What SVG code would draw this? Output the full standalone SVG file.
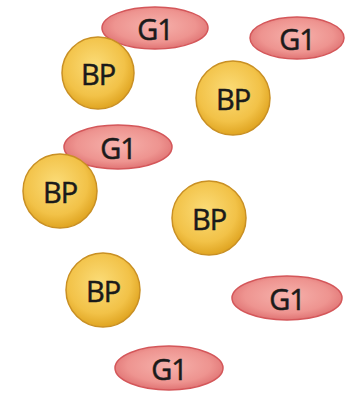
<svg xmlns="http://www.w3.org/2000/svg" width="352" height="394" viewBox="0 0 352 394">
<defs>
<radialGradient id="gBP" cx="0.45" cy="0.4" r="0.6">
<stop offset="0" stop-color="#fbdc78"/>
<stop offset="0.7" stop-color="#f2c248"/>
<stop offset="1" stop-color="#e0a522"/>
</radialGradient>
<radialGradient id="gG1" cx="0.5" cy="0.45" r="0.55">
<stop offset="0" stop-color="#f6b2ac"/>
<stop offset="0.7" stop-color="#ee9490"/>
<stop offset="1" stop-color="#e07474"/>
</radialGradient>
</defs>
<style>
.bp{fill:url(#gBP);stroke:#c99024;stroke-width:1.5}
.g1{fill:url(#gG1);stroke:#d4575a;stroke-width:1.5}
text{font-family:"Open Sans","Liberation Sans",sans-serif;font-size:29px;fill:#1a1a1a;stroke:#1a1a1a;stroke-width:0.5;text-anchor:middle;dominant-baseline:central;letter-spacing:-1px}
</style>
<g id="connectors"/>
<g id="g1-top"><ellipse class="g1" cx="155" cy="28" rx="53" ry="21"/><text x="155" y="28">G1</text></g>
<g id="g1-topright"><ellipse class="g1" cx="297" cy="38" rx="47" ry="21"/><text x="297" y="38">G1</text></g>
<g id="bp-topleft"><circle class="bp" cx="98" cy="73" r="36"/><text x="98" y="73">BP</text></g>
<g id="bp-right"><circle class="bp" cx="233" cy="98" r="37"/><text x="233" y="98">BP</text></g>
<g id="g1-mid"><ellipse class="g1" cx="118" cy="147" rx="54" ry="22"/><text x="118" y="147">G1</text></g>
<g id="bp-left"><circle class="bp" cx="60" cy="191" r="37"/><text x="60" y="191">BP</text></g>
<g id="bp-center"><circle class="bp" cx="209" cy="218" r="37"/><text x="209" y="218">BP</text></g>
<g id="bp-bottom"><circle class="bp" cx="103" cy="290" r="37"/><text x="103" y="290">BP</text></g>
<g id="g1-bottomright"><ellipse class="g1" cx="287" cy="298" rx="55" ry="22"/><text x="287" y="298">G1</text></g>
<g id="g1-bottom"><ellipse class="g1" cx="169" cy="368" rx="54" ry="22"/><text x="169" y="368">G1</text></g>
</svg>
